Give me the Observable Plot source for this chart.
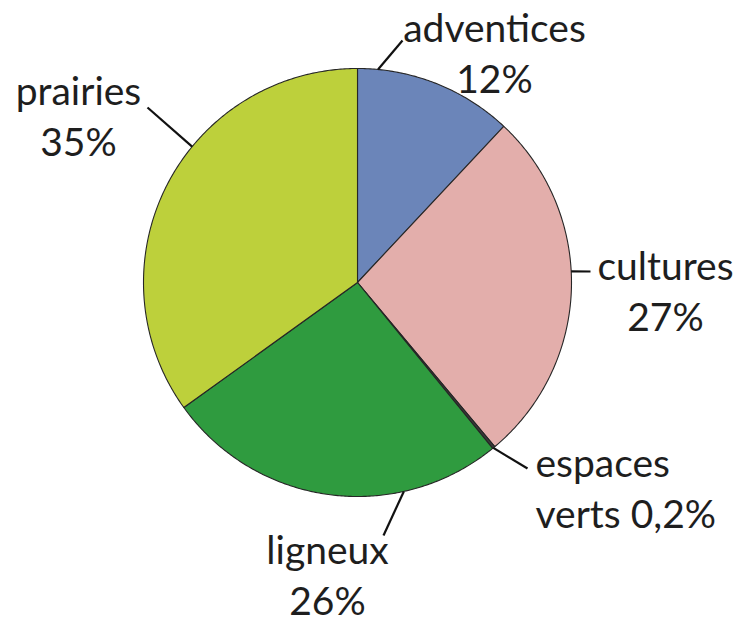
<!DOCTYPE html>
<html><head><meta charset="utf-8">
<script src="https://cdn.jsdelivr.net/npm/d3@7"></script>
<script src="https://cdn.jsdelivr.net/npm/@observablehq/plot@0.6"></script>
<style>body{margin:0;background:#fff}</style>
</head><body><div id="chart"></div>
<script>
// ---- data ----
const categories = ["adventices", "cultures", "espaces verts", "ligneux", "prairies"];
const shares = [12, 27, 0.2, 26, 35];
const labelNames = ["adventices", "cultures", "espaces", "ligneux", "prairies"];
const labelValues = ["12%", "27%", "verts 0,2%", "26%", "35%"];
const colors = ["#6b85b9", "#e3aeab", "#3a3a3a", "#2f9b3f", "#bdd03b"];

// ---- layout (pixels) ----
const W = 737, H = 624, CX = 357, CY = 282, R = 214;
const FONT = 39, LINE = 51;
// edge angle (deg, clockwise from top), leader end, text anchor point (last baseline)
const layout = [
  {edge: 5.5,   lx: 402, ly: 40,  tx: 494, ty: 92,  anchor: "middle"},
  {edge: 87,    lx: 590, ly: 271, tx: 665, ty: 330, anchor: "middle"},
  {edge: 140.6, lx: 527, ly: 468, tx: 535, ty: 527, anchor: "start"},
  {edge: 167.5, lx: 383, ly: 535, tx: 327, ty: 614, anchor: "middle"},
  {edge: 309.4, lx: 147, ly: 107, tx: 78,  ty: 155, anchor: "middle"}
];

const ux = px => (px - CX) / R;
const uy = py => (CY - py) / R;
const total = d3.sum(shares);

// slice polygons (unit circle, angle clockwise from top)
let acc = 0;
const slices = categories.map((c, i) => {
  const a0 = acc / total * 2 * Math.PI;
  acc += shares[i];
  const a1 = acc / total * 2 * Math.PI;
  const n = Math.max(2, Math.ceil((a1 - a0) / (Math.PI / 360)));
  const pts = [{x: 0, y: 0}];
  for (let k = 0; k <= n; k++) {
    const a = a0 + (a1 - a0) * k / n;
    pts.push({x: Math.sin(a), y: Math.cos(a)});
  }
  pts.push({x: 0, y: 0});
  return {cat: c, color: colors[i], pts};
});

const leaders = categories.map((c, i) => {
  const L = layout[i], a = L.edge * Math.PI / 180;
  return {x1: Math.sin(a), y1: Math.cos(a), x2: ux(L.lx), y2: uy(L.ly)};
});
const labels = categories.map((c, i) => ({
  text: labelNames[i] + "\n" + labelValues[i],
  x: ux(layout[i].tx), y: uy(layout[i].ty), anchor: layout[i].anchor
}));

const marks = [];
for (const s of slices) {
  marks.push(Plot.line(s.pts, {x: "x", y: "y", fill: s.color, stroke: "#262626", strokeWidth: 1.1, strokeLinejoin: "round"}));
}
marks.push(Plot.link(leaders, {x1: "x1", y1: "y1", x2: "x2", y2: "y2", stroke: "#111", strokeWidth: 2.2}));
for (const a of ["middle", "start"]) {
  marks.push(Plot.text(labels.filter(d => d.anchor === a), {
    x: "x", y: "y", text: "text", textAnchor: a, lineAnchor: "bottom",
    lineHeight: LINE / FONT, fontSize: FONT, fill: "#1e1e1e"
  }));
}

const chart = Plot.plot({
  width: W, height: H,
  marginTop: 0, marginRight: 0, marginBottom: 0, marginLeft: 0,
  x: {domain: [ux(0), ux(W)], range: [0, W], axis: null},
  y: {domain: [uy(H), uy(0)], range: [H, 0], axis: null},
  style: {fontFamily: "Lato, sans-serif", background: "#fff"},
  marks
});
document.getElementById("chart").appendChild(chart);
</script>
</body></html>
